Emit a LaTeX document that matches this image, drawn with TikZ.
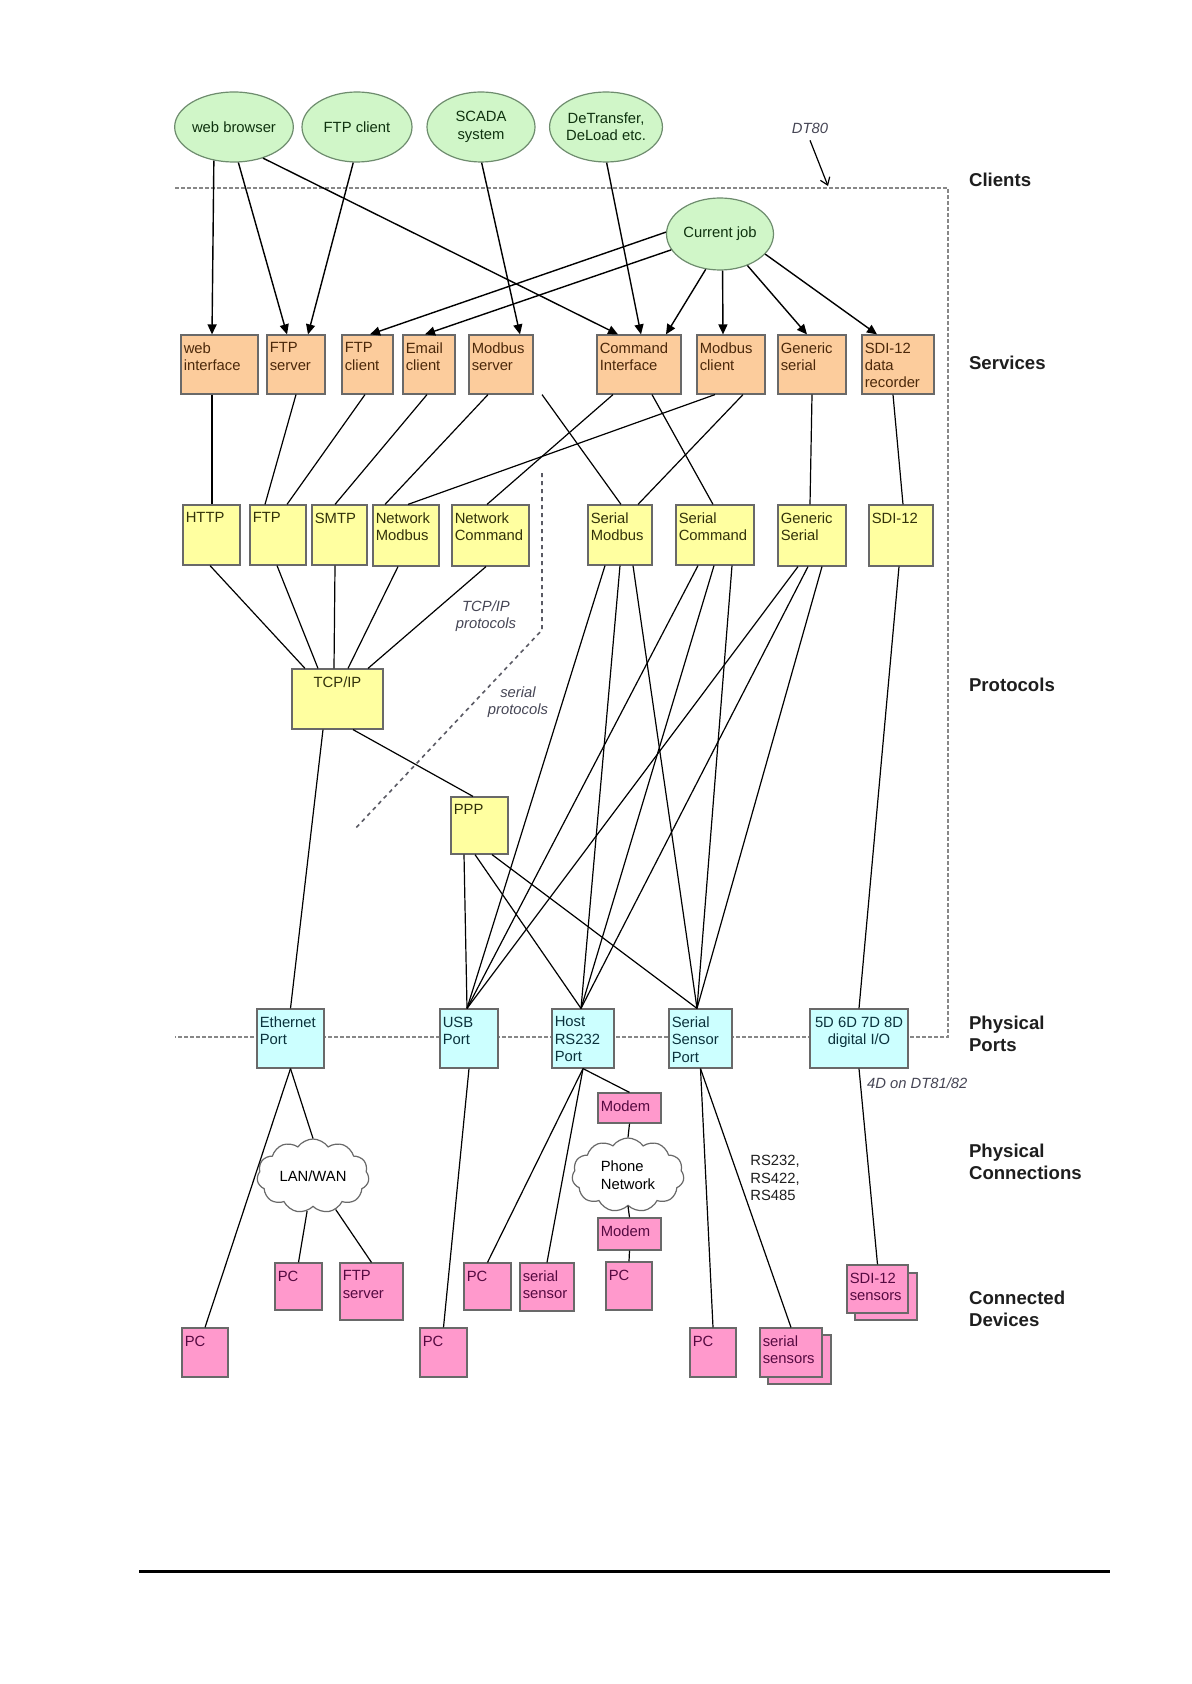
\documentclass[tikz,border=0pt]{standalone}
\usepackage{fontspec}
\setmainfont{Liberation Sans}
\usetikzlibrary{shapes.geometric,shapes.symbols,arrows.meta,fit}

\definecolor{svcfill}{RGB}{252,204,156}
\definecolor{protfill}{RGB}{255,255,160}
\definecolor{portfill}{RGB}{204,255,255}
\definecolor{devfill}{RGB}{255,153,204}
\definecolor{ellfill}{RGB}{208,246,200}
\definecolor{bordergray}{RGB}{105,105,105}
\definecolor{ellborder}{RGB}{110,140,110}
\definecolor{svctext}{RGB}{75,40,10}
\definecolor{prottext}{RGB}{50,50,10}
\definecolor{porttext}{RGB}{10,50,60}
\definecolor{devtext}{RGB}{85,10,65}
\definecolor{elltext}{RGB}{15,50,15}
\definecolor{notegray}{RGB}{70,70,85}
\definecolor{dashgray}{RGB}{135,135,135}
\definecolor{divgray}{RGB}{90,90,100}
\definecolor{catblack}{RGB}{30,30,30}

\tikzset{
  base/.style={font=\fontsize{7.4}{8.7}\selectfont},
  box/.style={draw=bordergray, line width=0.6pt, inner sep=0pt},
  svc/.style={box, fill=svcfill},
  prot/.style={box, fill=protfill},
  port/.style={box, fill=portfill},
  dev/.style={box, fill=devfill},
  client/.style={ellipse, draw=ellborder, line width=0.6pt, fill=ellfill, inner sep=0pt, align=center, text=elltext},
  txt/.style={anchor=north west, align=left, inner xsep=1.5pt, inner ysep=4pt},
  ctxt/.style={anchor=north, align=center, inner xsep=1.5pt, inner ysep=4pt},
  arr/.style={line width=0.7pt, -{Triangle[length=5pt,width=4.5pt]}},
  link/.style={line width=0.6pt},
  cat/.style={anchor=west, align=left, font=\fontsize{9.3}{11}\selectfont\bfseries, text=catblack},
  note/.style={font=\fontsize{7.4}{8.7}\selectfont\itshape, text=notegray, align=center},
  netcloud/.style={cloud, cloud puffs=11, cloud puff arc=110, cloud ignores aspect, draw=bordergray, line width=0.6pt, fill=white, inner sep=0pt, align=left, text=black},
}

\begin{document}
\begin{tikzpicture}[x=0.5pt,y=-0.5pt,base]
\fill[white] (0,0) rectangle (1191,1684);
\useasboundingbox (0,0) rectangle (1191,1684);

% DT80 boundary and divider
\draw[dashgray, line width=0.6pt, dash pattern=on 2pt off 1pt] (175,188) -- (948,188) -- (948,1037) -- (175,1037);
\draw[divgray, line width=0.8pt, dash pattern=on 2pt off 2pt] (542,473) -- (542,630) -- (354,830);

% clients
\node[client, minimum width=54pt, minimum height=35pt] (wb) at (234,127) {web browser};
\node[client, minimum width=55pt, minimum height=35pt] (ftpc) at (357,127) {FTP client};
\node[client, minimum width=54pt, minimum height=35pt] (scada) at (481,127) {SCADA\\system};
\node[client, minimum width=55pt, minimum height=35pt] (det) at (606,127) {DeTransfer,\\DeLoad etc.};
\node[client, minimum width=53.5pt, minimum height=36pt] (job) at (720,234) {Current job};

% services
\node[svc, fit={(181,335)(258,394)}] (wi) {};
\node[txt, text=svctext] (wi-t) at (wi.north west) {web\\interface};
\node[svc, fit={(267,335)(325,394)}] (fsrv) {};
\node[txt, text=svctext] (fsrv-t) at (fsrv.north west) {FTP\\server};
\node[svc, fit={(342,335)(393,394)}] (fcli) {};
\node[txt, text=svctext] (fcli-t) at (fcli.north west) {FTP\\client};
\node[svc, fit={(403,335)(455,394)}] (ecli) {};
\node[txt, text=svctext] (ecli-t) at (ecli.north west) {Email\\client};
\node[svc, fit={(469,335)(533,394)}] (msrv) {};
\node[txt, text=svctext] (msrv-t) at (msrv.north west) {Modbus\\server};
\node[svc, fit={(597,335)(681,394)}] (cmd) {};
\node[txt, text=svctext] (cmd-t) at (cmd.north west) {Command\\Interface};
\node[svc, fit={(697,335)(765,394)}] (mcli) {};
\node[txt, text=svctext] (mcli-t) at (mcli.north west) {Modbus\\client};
\node[svc, fit={(778,335)(846,394)}] (gser) {};
\node[txt, text=svctext] (gser-t) at (gser.north west) {Generic\\serial};
\node[svc, fit={(862,335)(934,394)}] (sdir) {};
\node[txt, text=svctext] (sdir-t) at (sdir.north west) {SDI-12\\data\\recorder};

% protocols
\node[prot, fit={(183,505)(240,565)}] (http) {};
\node[txt, text=prottext] (http-t) at (http.north west) {HTTP};
\node[prot, fit={(250,505)(306,565)}] (ftp) {};
\node[txt, text=prottext] (ftp-t) at (ftp.north west) {FTP};
\node[prot, fit={(312,505)(367,565)}] (smtp) {};
\node[txt, text=prottext] (smtp-t) at (smtp.north west) {SMTP};
\node[prot, fit={(373,505)(439,566)}] (nmod) {};
\node[txt, text=prottext] (nmod-t) at (nmod.north west) {Network\\Modbus};
\node[prot, fit={(452,505)(529,566)}] (ncmd) {};
\node[txt, text=prottext] (ncmd-t) at (ncmd.north west) {Network\\Command};
\node[prot, fit={(588,505)(652,565)}] (smod) {};
\node[txt, text=prottext] (smod-t) at (smod.north west) {Serial\\Modbus};
\node[prot, fit={(676,505)(754,565)}] (scmd) {};
\node[txt, text=prottext] (scmd-t) at (scmd.north west) {Serial\\Command};
\node[prot, fit={(778,505)(846,566)}] (gen) {};
\node[txt, text=prottext] (gen-t) at (gen.north west) {Generic\\Serial};
\node[prot, fit={(869,505)(933,566)}] (sdi) {};
\node[txt, text=prottext] (sdi-t) at (sdi.north west) {SDI-12};
\node[prot, fit={(292,669)(383,729)}] (tcp) {};
\node[ctxt, text=prottext] (tcp-t) at (tcp.north) {TCP/IP};
\node[prot, fit={(451,797)(508,854)}] (ppp) {};
\node[txt, text=prottext] (ppp-t) at (ppp.north west) {PPP};

% physical ports
\node[port, fit={(257,1009)(324,1068)}] (eth) {};
\node[txt, text=porttext] (eth-t) at (eth.north west) {Ethernet\\Port};
\node[port, fit={(440,1009)(498,1068)}] (usb) {};
\node[txt, text=porttext] (usb-t) at (usb.north west) {USB\\Port};
\node[port, fit={(552,1009)(614,1068)}] (host) {};
\node[txt, text=porttext] (host-t) at (host.north west) {Host\\RS232\\Port};
\node[port, fit={(669,1009)(732,1068)}] (ssp) {};
\node[txt, text=porttext] (ssp-t) at (ssp.north west) {Serial\\Sensor\\Port};
\node[port, fit={(810,1009)(908,1068)}] (dio) {};
\node[ctxt, text=porttext] (dio-t) at (dio.north) {5D 6D 7D 8D\\digital I/O};

% networks
\node[netcloud, minimum width=56pt, minimum height=37pt] (lan) at (313,1176) {LAN/WAN};
\node[netcloud, minimum width=56pt, minimum height=37pt] (phone) at (628,1175) {Phone\\Network};

% devices
\node[dev, fit={(182,1328)(228,1377)}] (pc1) {};
\node[txt, text=devtext] (pc1-t) at (pc1.north west) {PC};
\node[dev, fit={(275,1263)(322,1310)}] (pc2) {};
\node[txt, text=devtext] (pc2-t) at (pc2.north west) {PC};
\node[dev, fit={(340,1263)(403,1320)}] (ftps) {};
\node[txt, text=devtext] (ftps-t) at (ftps.north west) {FTP\\server};
\node[dev, fit={(420,1328)(467,1377)}] (pc3) {};
\node[txt, text=devtext] (pc3-t) at (pc3.north west) {PC};
\node[dev, fit={(464,1263)(511,1310)}] (pc4) {};
\node[txt, text=devtext] (pc4-t) at (pc4.north west) {PC};
\node[dev, fit={(520,1263)(574,1311)}] (ssen) {};
\node[txt, text=devtext] (ssen-t) at (ssen.north west) {serial\\sensor};
\node[dev, fit={(598,1093)(661,1123)}] (mod1) {};
\node[txt, text=devtext] (mod1-t) at (mod1.north west) {Modem};
\node[dev, fit={(598,1218)(661,1250)}] (mod2) {};
\node[txt, text=devtext] (mod2-t) at (mod2.north west) {Modem};
\node[dev, fit={(606,1262)(652,1310)}] (pc5) {};
\node[txt, text=devtext] (pc5-t) at (pc5.north west) {PC};
\node[dev, fit={(690,1328)(736,1377)}] (pc6) {};
\node[txt, text=devtext] (pc6-t) at (pc6.north west) {PC};
\node[dev, fit={(768,1335)(831,1384)}] (ssens-b) {};
\node[dev, fit={(760,1328)(822,1377)}] (ssens) {};
\node[txt, text=devtext] (ssens-t) at (ssens.north west) {serial\\sensors};
\node[dev, fit={(855,1273)(917,1320)}] (sdis-b) {};
\node[dev, fit={(847,1265)(908,1313)}] (sdis) {};
\node[txt, text=devtext] (sdis-t) at (sdis.north west) {SDI-12\\sensors};

% clients -> services
\draw[arr] (wb.239) -- ([xshift=-3.75pt]wi.north);
\draw[arr] (wb.277) -- ([xshift=-4.5pt]fsrv.north);
\draw[arr] (ftpc.264) -- ([xshift=6pt]fsrv.north);
\draw[arr] (wb.313) -- ([xshift=-10.5pt]cmd.north);
\draw[arr] (scada.271) -- ([xshift=9.5pt]msrv.north);
\draw[arr] (det.271) -- ([xshift=1pt]cmd.north);
\draw[arr] (job.178) -- ([xshift=1.25pt]fcli.north);
\draw[arr] (job.198) -- ([xshift=-2pt]ecli.north);
\draw[arr] (job.248) -- ([xshift=13.5pt]cmd.north);
\draw[arr] (job.274) -- ([xshift=-4pt]mcli.north);
\draw[arr] (job.311) -- ([xshift=-2.5pt]gser.north);
\draw[arr] (job.336) -- ([xshift=-10.5pt]sdir.north);

% services -> protocols
\draw[link] ([xshift=-3.75pt]wi.south) -- ([xshift=0.25pt]http.north);
\draw[link] (fsrv.south) -- ([xshift=-6.5pt]ftp.north);
\draw[link] ([xshift=-1.25pt]fcli.south) -- ([xshift=4.5pt]ftp.north);
\draw[link] ([xshift=-1pt]ecli.south) -- ([xshift=-2.25pt]smtp.north);
\draw[link] ([xshift=-6.5pt]msrv.south) -- ([xshift=-10.5pt]nmod.north);
\draw[link] ([xshift=-8pt]mcli.south) -- ([xshift=1pt]nmod.north);
\draw[link] ([xshift=-13pt]cmd.south) -- ([xshift=-1.75pt]ncmd.north);
\draw[link] ([xshift=20.5pt]msrv.south) -- ([xshift=0.5pt]smod.north);
\draw[link] ([xshift=6.5pt]cmd.south) -- ([xshift=-1pt]scmd.north);
\draw[link] ([xshift=6pt]mcli.south) -- ([xshift=9pt]smod.north);
\draw[link] (gser.south) -- ([xshift=-1pt]gen.north);
\draw[link] ([xshift=-2.5pt]sdir.south) -- ([xshift=1pt]sdi.north);

% protocols -> TCP/IP
\draw[link] ([xshift=-0.75pt]http.south) -- ([xshift=-16.25pt]tcp.north);
\draw[link] ([xshift=-0.5pt]ftp.south) -- ([xshift=-9.75pt]tcp.north);
\draw[link] ([xshift=-2.25pt]smtp.south) -- ([xshift=-1.75pt]tcp.north);
\draw[link] ([xshift=-4pt]nmod.south) -- ([xshift=5.25pt]tcp.north);
\draw[link] ([xshift=-2.25pt]ncmd.south) -- ([xshift=15.25pt]tcp.north);

% TCP/IP, PPP -> ports
\draw[link] ([xshift=-7.25pt]tcp.south) -- (eth.north);
\draw[link] ([xshift=7.75pt]tcp.south) -- ([xshift=-3.25pt]ppp.north);
\draw[link] ([xshift=-7.75pt]ppp.south) -- ([xshift=-1pt]usb.north);
\draw[link] ([xshift=-2.25pt]ppp.south) -- ([xshift=-1pt]host.north);
\draw[link] ([xshift=6.25pt]ppp.south) -- ([xshift=-1.75pt]ssp.north);

% serial protocols -> ports
\draw[link] ([xshift=-7.5pt]smod.south) -- ([xshift=-1pt]usb.north);
\draw[link] (smod.south) -- ([xshift=-1pt]host.north);
\draw[link] ([xshift=6.5pt]smod.south) -- ([xshift=-1.75pt]ssp.north);
\draw[link] ([xshift=-8.5pt]scmd.south) -- ([xshift=-1pt]usb.north);
\draw[link] ([xshift=-0.5pt]scmd.south) -- ([xshift=-1pt]host.north);
\draw[link] ([xshift=8.5pt]scmd.south) -- ([xshift=-1.75pt]ssp.north);
\draw[link] ([xshift=-7pt]gen.south) -- ([xshift=-1pt]usb.north);
\draw[link] ([xshift=-2pt]gen.south) -- ([xshift=-1pt]host.north);
\draw[link] ([xshift=5pt]gen.south) -- ([xshift=-1.75pt]ssp.north);
\draw[link] ([xshift=-1pt]sdi.south) -- (dio.north);

% ports -> devices
\draw[link] (eth.south) -- (pc1.north);
\draw[link] (eth.south) -- (lan.north);
\draw[link] (lan) -- (pc2.north);
\draw[link] (lan) -- (ftps.north);
\draw[link] (usb.south) -- (pc3.north);
\draw[link] (host.south) -- (pc4.north);
\draw[link] (host.south) -- (ssen.north);
\draw[link] (host.south) -- (mod1.north);
\draw[link] (mod1.south) -- (phone.north);
\draw[link] (phone.south) -- (mod2.north);
\draw[link] (mod2.south) -- (pc5.north);
\draw[link] (ssp.south) -- (pc6.north);
\draw[link] (ssp.south) -- (ssens.north);
\draw[link] (dio.south) -- (sdis.north);

% notes
\node[note] (dt80) at (810,128) {DT80};
\coordinate (dtend) at (828,186);
\draw[line width=0.6pt, -{Straight Barb[length=3.5pt,width=5pt]}] (dt80.south) -- (dtend);
\node[note] (tcpnote) at (486,616) {TCP/IP\\protocols};
\node[note] (sernote) at (518,702) {serial\\protocols};
\node[note, anchor=west] (dt81) at (860,1083) {4D on DT81/82};
\node[anchor=north west, align=left, inner sep=0pt, text=catblack] (rsnote) at (750,1155) {RS232,\\RS422,\\RS485};

% categories
\node[cat] (c-clients) at (962,180) {Clients};
\node[cat] (c-services) at (962,363) {Services};
\node[cat] (c-protocols) at (962,685) {Protocols};
\node[cat] (c-ports) at (962,1034) {Physical\\Ports};
\node[cat] (c-conn) at (962,1162) {Physical\\Connections};
\node[cat] (c-dev) at (962,1309) {Connected\\Devices};

% footer rule
\draw[line width=1.5pt] (139,1571) -- (1110,1571);
\end{tikzpicture}
\end{document}
